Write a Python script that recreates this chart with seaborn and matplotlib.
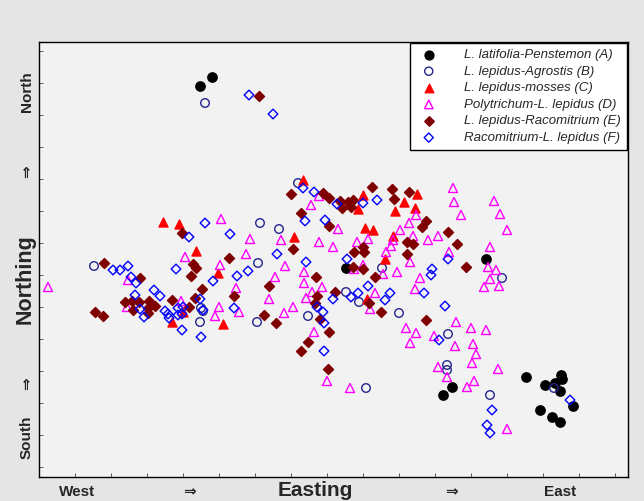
import numpy as np
import pandas as pd
import matplotlib
matplotlib.use("Agg")
import matplotlib.pyplot as plt
import seaborn as sns

# map grid units (easting, northing)
a_east = [212, 200, 346, 486, 452, 443, 526, 561, 562, 555, 545, 560, 573, 540, 552, 560]
a_north = [423, 414, 232, 241, 113, 105, 123, 125, 121, 117, 115, 109, 94, 90, 83, 78]

b_east = [94, 201, 203, 200, 298, 260, 279, 258, 382, 346, 359, 308, 399, 366, 448, 447, 447,
          502, 554, 490, 205, 257]
b_north = [234, 192, 189, 178, 317, 277, 271, 237, 232, 208, 198, 184, 187, 112, 166, 135, 130,
           222, 112, 105, 397, 178]

c_east = [163, 179, 196, 218, 183, 172, 223, 303, 363, 358, 417, 404, 415, 395, 365, 373, 393,
          294, 385, 367]
c_north = [278, 276, 249, 227, 188, 178, 176, 320, 305, 291, 306, 298, 292, 289, 272, 270, 264,
           263, 241, 201]

d_east = [48, 128, 127, 221, 185, 220, 236, 181, 219, 215, 239, 319, 311, 338, 416, 409, 400,
          393, 413, 428, 391, 386, 250, 281, 319, 333, 357, 368, 410, 246, 285, 304, 304, 275,
          322, 312, 363, 354, 383, 397, 420, 415, 375, 306, 269, 293, 284, 370, 314, 327, 350,
          453, 454, 494, 461, 500, 507, 438, 449, 490, 488, 496, 490, 484, 499, 406, 416, 410,
          434, 456, 471, 486, 455, 473, 476, 472, 438, 447, 474, 467, 498, 507]
d_north = [213, 220, 193, 281, 243, 235, 212, 199, 193, 184, 188, 304, 295, 271, 285, 277, 270,
           260, 264, 260, 254, 248, 261, 260, 258, 253, 258, 261, 238, 246, 234, 228, 217, 223,
           213, 208, 235, 231, 226, 228, 222, 211, 207, 202, 201, 193, 187, 191, 168, 119, 112,
           312, 298, 299, 285, 286, 270, 264, 248, 253, 233, 230, 221, 213, 214, 172, 167, 157,
           164, 178, 172, 170, 154, 156, 146, 137, 133, 123, 119, 113, 131, 71]

e_east = [104, 140, 95, 103, 125, 132, 139, 133, 149, 155, 148, 148, 172, 182, 229, 193, 196,
          191, 202, 234, 195, 189, 259, 291, 323, 329, 340, 348, 353, 351, 342, 372, 392, 394,
          409, 426, 422, 301, 329, 293, 363, 364, 354, 407, 413, 407, 353, 363, 375, 316, 269,
          335, 317, 315, 369, 320, 329, 308, 301, 328, 381, 426, 448, 457, 466, 264, 276]
e_north = [237, 222, 188, 184, 198, 199, 198, 190, 199, 194, 192, 187, 200, 267, 242, 236, 232,
           224, 211, 204, 202, 193, 404, 306, 307, 302, 299, 298, 300, 293, 292, 313, 311, 301,
           308, 279, 273, 287, 274, 251, 253, 248, 248, 258, 256, 246, 233, 231, 223, 223, 214,
           208, 204, 197, 197, 181, 168, 158, 149, 131, 188, 180, 268, 256, 233, 185, 177]

f_east = [113, 120, 128, 131, 136, 135, 140, 144, 154, 160, 165, 168, 169, 189, 205, 230, 176,
          237, 213, 200, 178, 183, 178, 182, 203, 182, 201, 234, 249, 273, 303, 314, 337, 363,
          377, 305, 325, 277, 306, 248, 347, 368, 424, 390, 351, 358, 333, 385, 317, 323, 324,
          324, 445, 439, 448, 432, 431, 570, 492, 487, 490]
f_north = [230, 230, 234, 223, 217, 205, 191, 183, 210, 204, 189, 186, 182, 263, 277, 266, 231,
           224, 219, 201, 192, 193, 185, 186, 190, 170, 163, 192, 405, 386, 312, 308, 296, 297,
           300, 279, 280, 246, 238, 229, 241, 214, 207, 207, 203, 207, 201, 200, 193, 188, 177,
           149, 194, 160, 241, 231, 225, 100, 90, 75, 67]

groups = [
    ("L. latifolia-Penstemon (A)", a_east, a_north, "o", "black", True, 45),
    ("L. lepidus-Agrostis (B)", b_east, b_north, "o", "#23238e", False, 38),
    ("L. lepidus-mosses (C)", c_east, c_north, "^", "#ff0000", True, 42),
    ("Polytrichum-L. lepidus (D)", d_east, d_north, "^", "#ff00ff", False, 42),
    ("L. lepidus-Racomitrium (E)", e_east, e_north, "D", "#7f0000", True, 26),
    ("Racomitrium-L. lepidus (F)", f_east, f_north, "D", "#0000ff", False, 24),
]

sns.set_style("white")
plt.rcParams['font.family'] = ['Liberation Sans', 'DejaVu Sans']

fig = plt.figure(figsize=(6.44, 5.01), dpi=100, facecolor="#e5e5e5")
ax = fig.add_axes([39 / 644, 1 - 477 / 501, 589 / 644, 435 / 501])
ax.set_facecolor("#f2f2f2")

for label, ex, no, m, c, filled, s in groups:
    df = pd.DataFrame({"easting": ex, "northing": no})
    sns.scatterplot(data=df, x="easting", y="northing", marker=m, s=s, color=c,
                    edgecolor=c, linewidth=1.0, ax=ax, label=label, legend=False)
    pts = ax.collections[-1]
    if not filled:
        pts.set_facecolor("none")
    pts.set_edgecolor(c)

ax.set_xlim(39, 628)
ax.set_ylim(23, 458)
ax.set_xlabel("")
ax.set_ylabel("")
ax.set_yticks(np.arange(33, 458, 32))
ax.set_xticks(np.arange(75, 628, 36))
ax.set_xticklabels([])
ax.set_yticklabels([])
ax.tick_params(direction="in", length=3, width=0.6, color="#444444",
               left=True, bottom=True)
for sp in ax.spines.values():
    sp.set_color("black")
    sp.set_linewidth(1.0)

leg = ax.legend(loc="upper right", bbox_to_anchor=(1.0, 1.0), borderaxespad=0.1,
                frameon=True, fancybox=False, framealpha=1, edgecolor="black",
                prop={"style": "italic", "size": 9.5}, labelspacing=0.33,
                handletextpad=1.7, borderpad=0.42, markerscale=0.95)
leg.get_frame().set_linewidth(1.0)

# margin labels
fig.text(27 / 644, 1 - 92 / 501, "North", rotation=90, ha="center", va="center",
         fontsize=11, fontweight="bold")
fig.text(27 / 644, 1 - 172 / 501, "⇒", rotation=90, ha="center", va="center",
         fontsize=11, fontweight="bold")
fig.text(25 / 644, 1 - 279 / 501, "Northing", rotation=90, ha="center", va="center",
         fontsize=15.5, fontweight="bold")
fig.text(27 / 644, 1 - 384 / 501, "⇒", rotation=90, ha="center", va="center",
         fontsize=11, fontweight="bold")
fig.text(27 / 644, 1 - 437 / 501, "South", rotation=90, ha="center", va="center",
         fontsize=11, fontweight="bold")

fig.text(77 / 644, 1 - 492 / 501, "West", ha="center", va="center",
         fontsize=11, fontweight="bold")
fig.text(190 / 644, 1 - 492 / 501, "⇒", ha="center", va="center",
         fontsize=11, fontweight="bold")
fig.text(315 / 644, 1 - 490 / 501, "Easting", ha="center", va="center",
         fontsize=15, fontweight="bold")
fig.text(452 / 644, 1 - 492 / 501, "⇒", ha="center", va="center",
         fontsize=11, fontweight="bold")
fig.text(560 / 644, 1 - 492 / 501, "East", ha="center", va="center",
         fontsize=11, fontweight="bold")

fig.savefig("out.png", dpi=100, facecolor=fig.get_facecolor())
